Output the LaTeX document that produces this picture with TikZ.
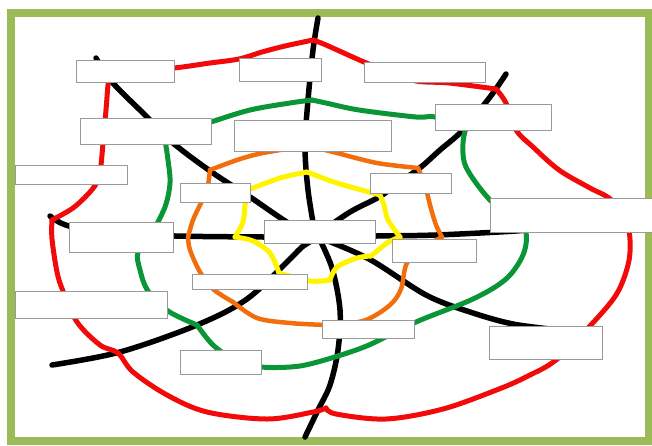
\documentclass[tikz,border=0pt]{standalone}
\definecolor{framegreen}{HTML}{9BBB59}
\definecolor{wred}{HTML}{F20A0A}
\definecolor{wgreen}{HTML}{0A9636}
\definecolor{worange}{HTML}{F26E0C}
\definecolor{wyellow}{HTML}{FFF400}
\definecolor{boxgray}{HTML}{9A9A9A}
\begin{document}
\begin{tikzpicture}[x=1pt,y=-1pt,
  bx/.style={draw=boxgray, fill=white, line width=0.9pt, inner sep=0pt},
  web/.style={line width=5pt, line cap=round, line join=round},
  spoke/.style={web, black, line width=5.5pt},
  sm/.style={smooth, tension=0.55}]
\useasboundingbox (0,0) rectangle (652,445);
% frame
\draw[framegreen, line width=8pt] (11,13) rectangle (648.5,441);
% spokes
\draw[spoke] plot[sm] coordinates {(318,18) (313,50) (308,100) (305,147) (308,190) (314,228)};
\draw[spoke] plot[sm] coordinates {(318,236) (332,268) (340,310) (338,350) (330,385) (318,410) (305,437)};
\draw[spoke] plot[sm] coordinates {(96,58) (112,82) (145,115) (173,143) (213,173) (250,197) (290,224) (316,236)};
\draw[spoke] plot[sm] coordinates {(506,74) (490,97) (463,130) (440,150) (421,167) (400,182) (379,197) (350,212) (318,234)};
\draw[spoke] plot[sm] coordinates {(50,216) (69,226) (120,233) (175,236) (264,237) (316,237)};
\draw[spoke] plot[sm] coordinates {(318,237) (376,236) (436,235) (516,231) (525,229)};
\draw[spoke] plot[sm] coordinates {(318,237) (302,247) (290,259) (247,299) (197,325) (120,352) (52,365)};
\draw[spoke] plot[sm] coordinates {(318,237) (369,259) (426,295) (470,312) (513,324) (560,330)};
% red ring
\draw[web, wred] plot[sm] coordinates {(52,220) (73,208) (90,192) (98,180) (101,165) (103,143) (106,110) (108,85) (110,72)};
\draw[web, wred] plot[sm] coordinates {(110,72) (140,70) (174,68) (210,63) (239,59) (262,52) (285,46) (313,40)};
\draw[web, wred] plot[sm] coordinates {(313,40) (326,45) (364,62) (390,72) (416,81) (449,83) (496,89)};
\draw[web, wred] plot[sm] coordinates {(496,89) (506,103) (516,130) (533,147) (559,170) (590,188) (609,198) (625,215) (630,240) (628,265) (616,295) (589,327) (556,360) (528,376) (499,389) (443,409) (386,419) (336,414) (326,408)};
\draw[web, wred] plot[sm] coordinates {(326,408) (313,412) (267,419) (207,412) (167,395) (133,372) (118,353) (100,345) (77,322) (63,291) (57,272) (52,239) (52,220)};
% green ring
\draw[web, wgreen] plot[sm] coordinates {(312,100) (290,103) (250,110) (211,122) (185,131) (165,140)};
\draw[web, wgreen] plot[sm] coordinates {(165,140) (168,160) (170,183) (165,207) (152,233)};
\draw[web, wgreen] plot[sm] coordinates {(152,233) (138,252) (140,270) (148,291) (168,311) (197,325)};
\draw[web, wgreen] plot[sm] coordinates {(197,325) (213,345) (235,360) (261,367) (300,366) (338,356)};
\draw[web, wgreen] plot[sm] coordinates {(338,356) (369,345) (416,322) (473,299) (506,279) (523,255) (526,233) (515,220)};
\draw[web, wgreen] plot[sm] coordinates {(515,220) (489,199) (466,167) (463,143) (466,128)};
\draw[web, wgreen] plot[sm] coordinates {(466,128) (435,117) (416,117) (359,110) (326,103) (312,100)};
% orange ring
\draw[web, worange, line width=4.5pt] plot[sm] coordinates {(188,237) (193,220) (200,205) (207,190) (210,170)};
\draw[web, worange, line width=4.5pt] plot[sm] coordinates {(210,170) (237,160) (258,154) (280,150) (306,145)};
\draw[web, worange, line width=4.5pt] plot[sm] coordinates {(306,145) (337,153) (377,163) (418,168)};
\draw[web, worange, line width=4.5pt] plot[sm] coordinates {(418,168) (425,185) (430,205) (436,225) (442,237)};
\draw[web, worange, line width=4.5pt] plot[sm] coordinates {(442,237) (425,247) (407,263) (401,289) (390,305) (366,320) (338,325)};
\draw[web, worange, line width=4.5pt] plot[sm] coordinates {(338,325) (326,325) (290,323) (257,318) (233,302)};
\draw[web, worange, line width=4.5pt] plot[sm] coordinates {(233,302) (213,289) (200,272) (190,250) (188,237)};
% yellow ring
\draw[web, wyellow] plot[sm] coordinates {(235,237) (243,222) (245,205) (248,190)};
\draw[web, wyellow] plot[sm] coordinates {(248,190) (280,178) (307,172)};
\draw[web, wyellow] plot[sm] coordinates {(307,172) (337,183) (380,195)};
\draw[web, wyellow] plot[sm] coordinates {(380,195) (384,205) (388,220) (400,237)};
\draw[web, wyellow] plot[sm] coordinates {(400,237) (387,243) (371,256)};
\draw[web, wyellow] plot[sm] coordinates {(371,256) (357,258) (337,267) (330,280)};
\draw[web, wyellow] plot[sm] coordinates {(330,280) (310,281) (279,273)};
\draw[web, wyellow] plot[sm] coordinates {(279,273) (270,253) (253,241) (235,237)};
% boxes
\node[bx, minimum width=98pt,  minimum height=22pt] (b1)  at (125,71) {};
\node[bx, minimum width=82pt,  minimum height=23pt] (b2)  at (280,69.5) {};
\node[bx, minimum width=121pt, minimum height=20pt] (b3)  at (424.5,72) {};
\node[bx, minimum width=131pt, minimum height=26pt] (b4)  at (145.5,131) {};
\node[bx, minimum width=157pt, minimum height=31pt] (b5)  at (312.5,135.5) {};
\node[bx, minimum width=116pt, minimum height=26pt] (b6)  at (493,117) {};
\node[bx, minimum width=112pt, minimum height=19pt] (b7)  at (71,174.5) {};
\node[bx, minimum width=70pt,  minimum height=19pt] (b8)  at (215,192.5) {};
\node[bx, minimum width=81pt,  minimum height=20pt] (b9)  at (410.5,183) {};
\node[bx, minimum width=162pt, minimum height=34pt] (b10) at (571,215) {};
\node[bx, minimum width=104pt, minimum height=30pt] (b11) at (121,237) {};
\node[bx, minimum width=111pt, minimum height=23pt] (b12) at (319.5,231.5) {};
\node[bx, minimum width=84pt,  minimum height=23pt] (b13) at (434,250.5) {};
\node[bx, minimum width=115pt, minimum height=15pt] (b14) at (249.5,281.5) {};
\node[bx, minimum width=152pt, minimum height=27pt] (b15) at (91,304.5) {};
\node[bx, minimum width=92pt,  minimum height=18pt] (b16) at (368,329) {};
\node[bx, minimum width=113pt, minimum height=33pt] (b17) at (545.5,342.5) {};
\node[bx, minimum width=81pt,  minimum height=24pt] (b18) at (220.5,362) {};
\end{tikzpicture}
\end{document}
